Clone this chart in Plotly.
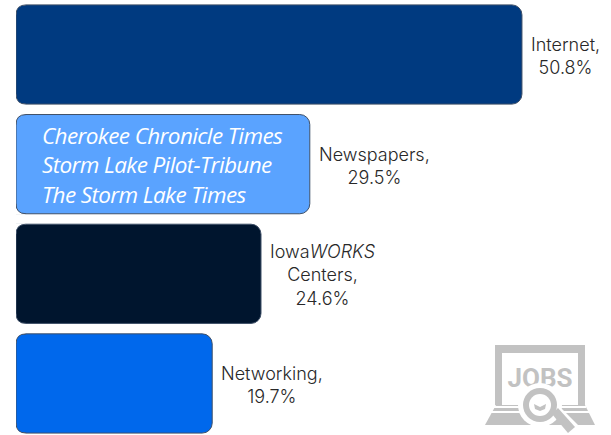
import plotly.graph_objects as go

categories = ["Internet", "Newspapers", "IowaWORKS Centers", "Networking"]
values = [50.8, 29.5, 24.6, 19.7]
labels = ["Internet,<br>50.8%", "Newspapers,<br>29.5%",
          "Iowa<i>WORKS</i><br>Centers,<br>24.6%", "Networking,<br>19.7%"]
colors = ["#003A80", "#5AA3FF", "#00152E", "#0068EC"]
newspaper_text = "Cherokee Chronicle Times<br>Storm Lake Pilot-Tribune<br>The Storm Lake Times"

LABEL_FONT = dict(family="Inter, sans-serif", size=18, color="#282828", weight=300)
GREY = "#C2C2C2"
EDGE = "#3F5068"
W, H = 611, 435
ML = 16
R = 10


def px(x):
    return (x - ML) / (W - ML)


def py(y):
    return 1 - y / H


fig = go.Figure(go.Bar(
    y=categories, x=values, orientation="h", cliponaxis=False,
    marker=dict(color=colors, line=dict(color=EDGE, width=1), cornerradius=R),
    hoverinfo="skip",
))

annotations = [
    dict(x=v, y=c, xref="x", yref="y", text=t, showarrow=False, xanchor="left",
         xshift=7, yshift=-1.5, align="center", font=LABEL_FONT)
    for v, c, t in zip(values, categories, labels)
]
annotations.append(dict(
    x=px(40), y=categories[1], xref="paper", yref="y", yshift=-1, text=newspaper_text,
    showarrow=False, xanchor="left", align="left",
    font=dict(family="Open Sans, sans-serif", size=22.5, color="white", style="italic"),
))


def rect(x0, y0, x1, y1, fill, **kw):
    return dict(type="rect", xref="paper", yref="paper", x0=px(x0), x1=px(x1), y0=py(y0), y1=py(y1),
                fillcolor=fill, line=dict(width=0), **kw)


def circle(cx, cy, r, fill):
    return dict(type="circle", xref="paper", yref="paper", x0=px(cx - r), x1=px(cx + r),
                y0=py(cy + r), y1=py(cy - r), fillcolor=fill, line=dict(width=0))


def poly(points, fill):
    d = "M " + " L ".join(f"{px(a):.4f},{py(b):.4f}" for a, b in points) + " Z"
    return dict(type="path", xref="paper", yref="paper", path=d, fillcolor=fill, line=dict(width=0))


def left_corners(cat):
    h = 49.6
    common = dict(type="path", xref="x", yref="y", xsizemode="pixel", ysizemode="pixel",
                  xanchor=0, yanchor=cat)
    mask = (f"M -2,{h + 1} L {R},{h + 1} L {R},{h} Q 0,{h} 0,{h - R} L -2,{h - R} Z "
            f"M -2,{-h - 1} L {R},{-h - 1} L {R},{-h} Q 0,{-h} 0,{-h + R} L -2,{-h + R} Z")
    arcs = f"M {R},{h} Q 0,{h} 0,{h - R} M {R},{-h} Q 0,{-h} 0,{-h + R}"
    return [dict(path=mask, fillcolor="white", line=dict(width=0), **common),
            dict(path=arcs, line=dict(color=EDGE, width=1), **common)]


shapes = [s for c in categories for s in left_corners(c)]
shapes += [
    rect(495, 345, 585, 405, GREY),
    rect(502, 353, 578, 405, "white"),
    rect(502, 364, 578, 388, "rgba(255,255,255,0)",
         label=dict(text="<b>JOBS</b>", textposition="middle center",
                    font=dict(family="Roboto, sans-serif", size=26, color=GREY))),
    poly([(496, 405), (485, 425), (595, 425), (585, 405)], GREY),
    rect(494, 406, 586, 408, "white"),
    rect(491, 411, 589, 413, "white"),
    poly([(550, 411), (557, 404), (584, 431), (572, 435)], "white"),
    circle(540, 405, 22, "white"),
    poly([(552, 414), (558, 408), (575, 427), (568, 433)], GREY),
    circle(540, 405, 17, GREY),
    circle(540, 405, 11, "white"),
    poly([(534, 404), (540, 407), (546, 404), (545, 409), (540, 411), (535, 409)], GREY),
]

fig.update_layout(
    width=W, height=H, autosize=False,
    margin=dict(l=ML, r=0, t=0, b=0),
    paper_bgcolor="white", plot_bgcolor="white",
    showlegend=False, bargap=0.095,
    xaxis=dict(range=[0, 59.74], visible=False, fixedrange=True),
    yaxis=dict(range=[3.47, -0.497], visible=False, fixedrange=True, type="category"),
    annotations=annotations, shapes=shapes,
)

post = """
document.body.style.margin = '0';
document.documentElement.style.overflow = 'hidden';
document.querySelectorAll('.annotation-text').forEach(function (t) {
  if (t.textContent.indexOf('Cherokee') >= 0) { t.style.letterSpacing = '-0.62px'; }
});
"""
fig.write_html("out.html", config=dict(displayModeBar=False, responsive=False), post_script=post)
